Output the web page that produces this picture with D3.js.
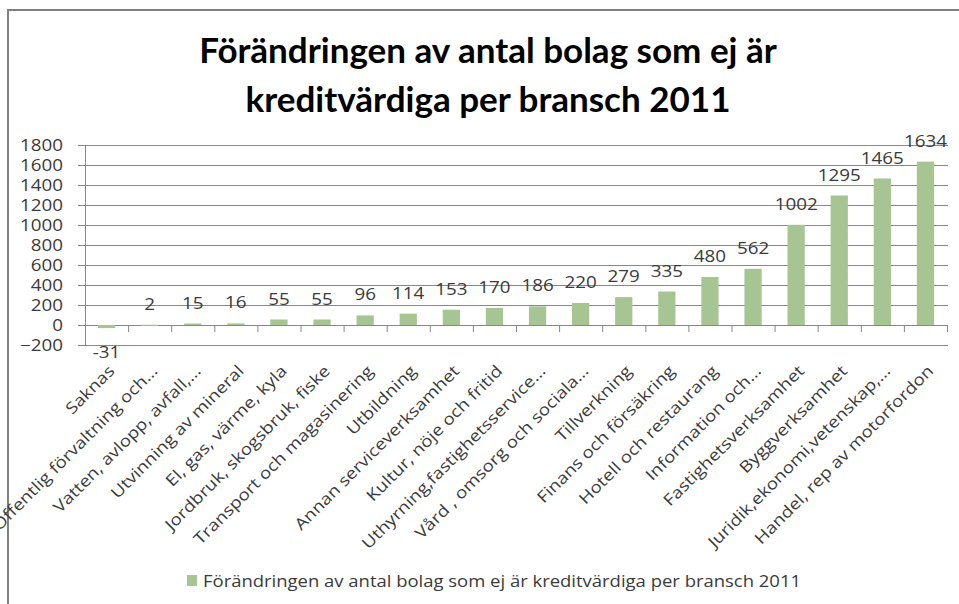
<!DOCTYPE html>
<html>
<head>
<meta charset="utf-8">
<script src="https://cdn.jsdelivr.net/npm/d3@7"></script>
<style>
  html, body { margin: 0; padding: 0; background: #fff; }
  svg { display: block; }
</style>
</head>
<body>
<svg id="chart" width="959" height="604"></svg>
<script>
const categories = [
  "Saknas",
  "Offentlig förvaltning och…",
  "Vatten, avlopp, avfall,…",
  "Utvinning av mineral",
  "El, gas, värme, kyla",
  "Jordbruk, skogsbruk, fiske",
  "Transport och magasinering",
  "Utbildning",
  "Annan serviceverksamhet",
  "Kultur, nöje och fritid",
  "Uthyrning,fastighetsservice…",
  "Vård , omsorg och sociala…",
  "Tillverkning",
  "Finans och försäkring",
  "Hotell och restaurang",
  "Information och…",
  "Fastighetsverksamhet",
  "Byggverksamhet",
  "Juridik,ekonomi,vetenskap,…",
  "Handel, rep av motorfordon"
];
const values = [-31, 2, 15, 16, 55, 55, 96, 114, 153, 170, 186, 220, 279, 335, 480, 562, 1002, 1295, 1465, 1634];
const yTicks = [-200, 0, 200, 400, 600, 800, 1000, 1200, 1400, 1600, 1800];
const titleLines = ["Förändringen av antal bolag som ej är", "kreditvärdiga per bransch 2011"];
const seriesName = "Förändringen av antal bolag som ej är kreditvärdiga per bransch 2011";

const svg = d3.select("#chart");
const TFONT = "Lato, 'Open Sans', sans-serif";
const FONT = "'Open Sans', Lato, sans-serif";
const barColor = "#a6c592";
const gridColor = "#878787";
const textColor = "#3a3a3a";

function stretch(sel, f) {
  sel.each(function () {
    const w = this.getComputedTextLength();
    d3.select(this).attr("textLength", w * f).attr("lengthAdjust", "spacingAndGlyphs");
  });
}

// frame
svg.append("rect").attr("x", 8).attr("y", 10).attr("width", 1000).attr("height", 700)
  .attr("fill", "#fff").attr("stroke", "#808080").attr("stroke-width", 2);

const x = d3.scaleBand().domain(categories).range([85, 947]).paddingInner(0.6).paddingOuter(0.3);
const y = d3.scaleLinear().domain([-200, 1800]).range([345, 145]);

// gridlines with left tick marks
const yAxis = d3.axisLeft(y).tickValues(yTicks).tickFormat(d3.format("d"))
  .tickSize(-(947 - 85)).tickPadding(22);
const gy = svg.append("g").attr("transform", "translate(85,0)").call(yAxis);
gy.select(".domain").remove();
gy.selectAll(".tick line").attr("stroke", gridColor).attr("x1", -7).attr("x2", 947 - 85 + 1);
const ytxt = gy.selectAll(".tick text").attr("font-family", FONT).attr("font-size", 16).attr("fill", textColor);

// vertical axis line
svg.append("line").attr("x1", 85.5).attr("x2", 85.5).attr("y1", y(1800)).attr("y2", y(-200))
  .attr("stroke", gridColor);

// category axis at zero
const step = x.step();
const gx = svg.append("g");
gx.append("line").attr("x1", 85).attr("x2", 947).attr("y1", y(0) + 0.5).attr("y2", y(0) + 0.5)
  .attr("stroke", gridColor);
gx.selectAll("line.tk").data(d3.range(categories.length + 1)).join("line").attr("class", "tk")
  .attr("x1", i => 85.5 + i * step).attr("x2", i => 85.5 + i * step)
  .attr("y1", y(0)).attr("y2", y(0) + 7).attr("stroke", gridColor);

// bars
svg.append("g").selectAll("rect").data(values).join("rect")
  .attr("x", (d, i) => x(categories[i]))
  .attr("width", x.bandwidth())
  .attr("y", d => y(Math.max(0, d)))
  .attr("height", d => Math.max(1, Math.abs(y(d) - y(0))))
  .attr("fill", barColor);

// data labels
const dl = svg.append("g").selectAll("text").data(values).join("text")
  .attr("x", (d, i) => x(categories[i]) + x.bandwidth() / 2)
  .attr("y", d => d >= 0 ? y(d) - 15 : y(d) + 30)
  .attr("text-anchor", "middle")
  .attr("font-family", FONT).attr("font-size", 16).attr("fill", textColor)
  .text(d => d);

// rotated category labels
const cl = svg.append("g").selectAll("text").data(categories).join("text")
  .attr("transform", d => `translate(${x(d) + x.bandwidth() / 2 + 5},368) rotate(-45)`)
  .attr("text-anchor", "end").attr("dy", "0.35em")
  .attr("font-family", FONT).attr("font-size", 16).attr("fill", textColor)
  .text(d => d);

// title
svg.append("g").selectAll("text").data(titleLines).join("text")
  .attr("x", 488).attr("y", (d, i) => 63 + i * 49)
  .attr("text-anchor", "middle")
  .attr("font-family", TFONT).attr("font-weight", "bold").attr("font-size", 35).attr("fill", "#000")
  .text(d => d);

// legend
svg.append("rect").attr("x", 187).attr("y", 575).attr("width", 10).attr("height", 11).attr("fill", barColor);
const lt = svg.append("text").attr("x", 203).attr("y", 587)
  .attr("font-family", FONT).attr("font-size", 16).attr("fill", textColor)
  .text(seriesName);

// horizontal stretch calibrated to reference widths
const handelNode = cl.filter(d => d === "Handel, rep av motorfordon").node();
const fCat = 245 / handelNode.getComputedTextLength();
stretch(cl, fCat);
const n1634 = dl.filter(d => d === 1634).node();
const fNum = 43 / n1634.getComputedTextLength();
stretch(dl, fNum);
stretch(ytxt, fNum);
lt.attr("textLength", 598).attr("lengthAdjust", "spacingAndGlyphs");
</script>
</body>
</html>
